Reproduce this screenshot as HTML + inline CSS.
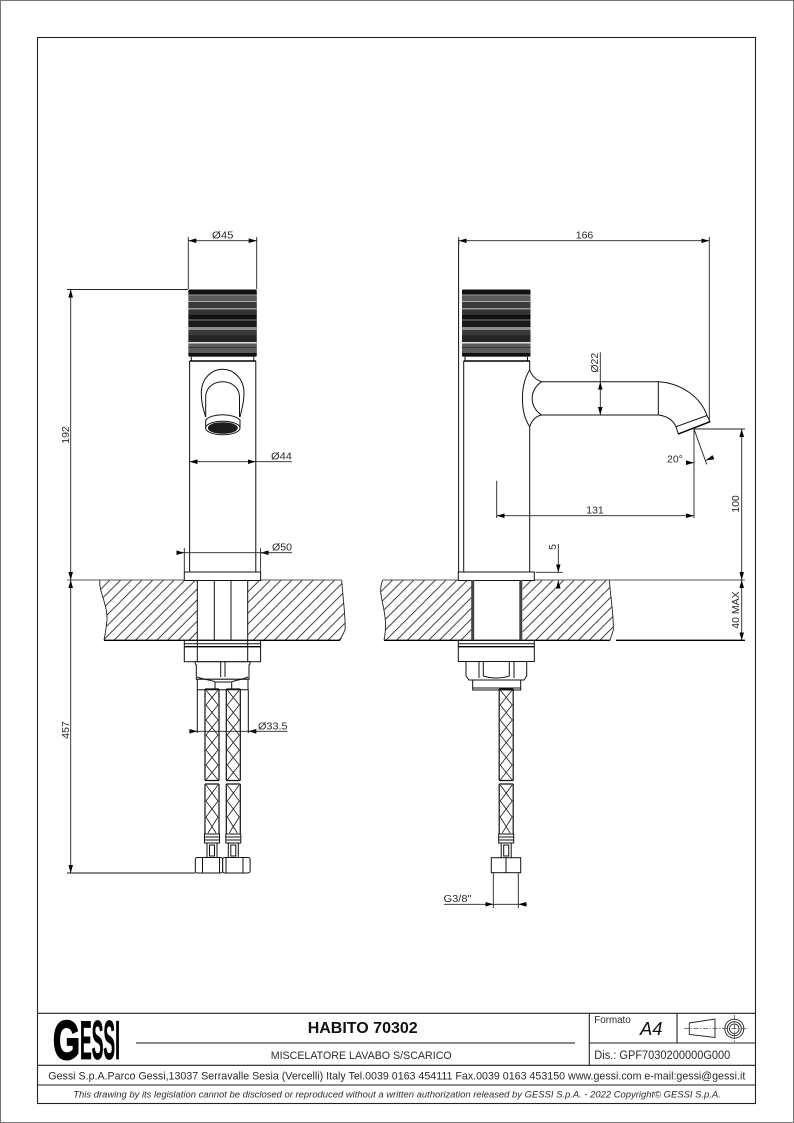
<!DOCTYPE html>
<html><head><meta charset="utf-8"><style>
html,body{margin:0;padding:0;background:#fff}
svg{display:block}
text{font-family:"Liberation Sans",sans-serif;fill:#2a2a2a;font-size:10.5px}
.l{stroke:#111;stroke-width:1;fill:none}
.t{stroke:#000;stroke-width:1.4;fill:none}
.g{stroke:#555;stroke-width:1.1;fill:none}
.d{stroke:#222;stroke-width:.9;fill:none}
.a{stroke:#222;stroke-width:.9;fill:none;marker-start:url(#ar);marker-end:url(#ar)}
.e{stroke:#222;stroke-width:.9;fill:none;marker-end:url(#ar)}
.w{stroke:#111;stroke-width:1;fill:#fff}
</style></head><body>
<svg width="794" height="1123" viewBox="0 0 794 1123" xmlns="http://www.w3.org/2000/svg">
<defs>
<marker id="ar" markerUnits="userSpaceOnUse" markerWidth="10" markerHeight="6" refX="8" refY="3" orient="auto-start-reverse"><path d="M0,.7 L8,3 L0,5.3 z" fill="#000"/></marker>
<pattern id="hl" patternUnits="userSpaceOnUse" x="110" y="580" width="10.7" height="10.7"><path d="M-1,11.7 L11.7,-1 M-1,1 L1,-1 M9.7,11.7 L11.7,9.7" stroke="#222" stroke-width=".85" fill="none"/></pattern>
<pattern id="hr" patternUnits="userSpaceOnUse" x="403.3" y="580" width="10.7" height="10.7"><path d="M-1,11.7 L11.7,-1 M-1,1 L1,-1 M9.7,11.7 L11.7,9.7" stroke="#222" stroke-width=".85" fill="none"/></pattern>
<clipPath id="kc"><rect x="0" y="289.5" width="68.5" height="67.2" rx="1.5"/></clipPath>
<g id="knob"><g clip-path="url(#kc)">
<rect x="0" y="289.5" width="68.5" height="67.2" fill="#222"/>
<rect x="0" y="289.5" width="68.5" height="5" fill="#111"/>
<rect x="0" y="294.5" width="68.5" height="1" fill="#999"/>
<rect x="0" y="295.5" width="68.5" height="5.5" fill="#5a5a5a"/>
<rect x="0" y="301" width="68.5" height="1" fill="#aaa"/>
<rect x="0" y="302" width="68.5" height="6" fill="#3a3a3a"/>
<rect x="0" y="308" width="68.5" height="1.5" fill="#999"/>
<rect x="0" y="309.5" width="68.5" height="5.5" fill="#333"/>
<rect x="0" y="315" width="68.5" height="4" fill="#111"/>
<rect x="0" y="319" width="68.5" height="2" fill="#4a4a4a"/>
<rect x="0" y="321" width="68.5" height="6" fill="#1a1a1a"/>
<rect x="0" y="327" width="68.5" height="3" fill="#8c8c8c"/>
<rect x="0" y="330" width="68.5" height="5" fill="#3a3a3a"/>
<rect x="0" y="335" width="68.5" height="7" fill="#262626"/>
<rect x="0" y="342" width="68.5" height="1.5" fill="#e0e0e0"/>
<rect x="0" y="343.5" width="68.5" height="9.5" fill="#5c5c5c"/>
<rect x="0" y="347" width="68.5" height="1" fill="#333"/>
<rect x="0" y="353" width="68.5" height="3.7" fill="#111"/>
</g>
<path d="M3,356.7 V361 M65.5,356.7 V361" class="l"/>
</g>
<g id="braid">
<path d="M0,0 H14 M0,0 V91.5 M14,0 V91.5 M0,91.5 H14 M0,95 H14 M0,95 V145 M14,95 V145" stroke="#111" stroke-width="1.2" fill="none"/>
<path d="M1,1 L13,16 L1,31 L13,46 L1,61 L13,76 L1,91 M13,1 L1,16 L13,31 L1,46 L13,61 L1,76 L13,91 M1,96 L13,112 L1,128 L11,144 M13,96 L1,112 L13,128 L3,144" stroke="#222" stroke-width=".85" fill="none"/>
<path d="M-.5,145 H14.5 V154 H-.5 z M-.5,148 H14.5 M-.5,151 H14.5" class="w"/>
<path d="M2,154 V168.5 M12,154 V168.5 M4.5,156 H9.5 V167 H4.5 z" class="l"/>
</g>
</defs>
<rect width="794" height="1123" fill="#fff"/>
<rect x=".5" y=".5" width="793" height="1122" fill="none" stroke="#777" stroke-width="1"/>
<rect x="37.5" y="37.5" width="718" height="1066" fill="none" stroke="#222" stroke-width="1.1"/>

<!-- LEFT VIEW -->
<path d="M100,580 C98,590 108,605 107,620 C106,630 105,635 104,640.3 H197.3 V580 z" fill="url(#hl)"/>
<path d="M247.7,580 H341.7 C343,600 346,620 345,630 L340,640.3 H247.7 z" fill="url(#hl)"/>
<path d="M100,580 C98,590 108,605 107,620 C106,630 105,635 104,640.3 M341.7,580 C343,600 346,620 345,630 L340,640.3" class="d"/>
<path d="M67,580 H342" class="g"/>
<path d="M104,640.3 H340" class="t"/>
<use href="#knob" x="188.3"/>
<path d="M189.6,361 H255.8" class="t"/>
<path d="M189.6,361 V572 M255.8,361 V572" class="l"/>
<path d="M205.7,417 C203,408 201.3,403 201.3,393 C201.3,378 212,369.3 222.7,369.3 C233,369.3 244,378 244,393 C244,403 242,408 240,417" class="l"/>
<path d="M205.7,417 V397 C205.7,388 213,381.7 222.7,381.7 C232,381.7 239.5,388 239.5,397 V417" class="l"/>
<path d="M205.7,420 C212,413 233,413 240,420 V428 H205.7 z" class="w"/>
<ellipse cx="222.8" cy="428" rx="17.2" ry="6.8" fill="#fff" stroke="#111" stroke-width="1"/>
<ellipse cx="222.8" cy="428" rx="15" ry="5.8" fill="#1c1c1c"/>
<rect x="184.3" y="572" width="76.3" height="8.5" class="w"/>
<path d="M197.3,580 V640 M214.3,580 V640 M231,580 V640 M247.7,580 V640" class="l"/>
<rect x="184.3" y="640.5" width="76.3" height="21.2" class="w"/>
<path d="M184.3,643.7 H260.6" class="l"/><path d="M184.3,646.7 H260.6" class="t"/>
<path d="M197.3,640.5 V662 M247.7,640.5 V662" class="l"/>
<path d="M195.3,661.7 H250 V664 L249,665 V679.3 H196.3 V665 L195.3,664 z" class="w"/>
<path d="M220.7,661.7 V677 M225,661.7 V677" class="l"/>
<path d="M197.3,679.3 H248 V689.8 H197.3 z" class="w"/>
<path d="M197.3,677 C205,680 212,680 215,682 H231.7 C235,680 242,680 248,677 M215,682 V689.8 M231.7,682 V689.8" class="l"/>
<path d="M197.3,690 V733 M248.3,690 V733" class="l"/>
<use href="#braid" x="205" y="689"/>
<use href="#braid" x="226.3" y="689"/>
<rect x="195.3" y="857.5" width="27.4" height="15.5" rx="2" class="w"/>
<rect x="222.7" y="857.5" width="27.4" height="15.5" rx="2" class="w"/>
<path d="M202.5,857.5 V873 M219.5,857.5 V873 M226,857.5 V873 M243,857.5 V873" class="l"/>
<path d="M67,873 H195.3" class="l"/>
<!-- left dims -->
<path d="M188.3,237 V289 M256.7,237 V289" class="d"/>
<path d="M188.3,240.7 H256.7" class="a"/>
<text x="212" y="238.5" textLength="21.5" lengthAdjust="spacingAndGlyphs">Ø45</text>
<path d="M67,289.5 H188" class="d"/>
<path d="M70.7,289.5 V580" class="a"/>
<path d="M70.7,580 V873" class="a"/>
<text transform="rotate(-90 69 435)" x="69" y="435" text-anchor="middle">192</text>
<text transform="rotate(-90 69 730)" x="69" y="730" text-anchor="middle">457</text>
<path d="M189.6,461.7 H255.8" class="a"/>
<path d="M255.8,461.7 H291.7" class="d"/>
<text x="271" y="459.5" textLength="21" lengthAdjust="spacingAndGlyphs">Ø44</text>
<path d="M184.3,548 V572 M260.6,548 V572" class="d"/>
<path d="M176.7,552.7 H184.3" class="e"/>
<path d="M269,552.7 H260.6" class="e"/>
<path d="M184.3,552.7 H292" class="d"/>
<text x="272" y="550.5" textLength="20" lengthAdjust="spacingAndGlyphs">Ø50</text>
<path d="M189,731.3 H197.3" class="e"/>
<path d="M257,731.3 H248.3" class="e"/>
<path d="M197.3,731.3 H287.3" class="d"/>
<text x="258" y="729.5" textLength="29.5" lengthAdjust="spacingAndGlyphs">Ø33.5</text>

<!-- RIGHT VIEW -->
<path d="M382.7,580 C379,590 381,595 383,605 C385,615 387,625 384,640.3 H471.7 V580 z" fill="url(#hr)"/>
<path d="M522.7,580 H609.3 C611,600 614,620 613.3,630 L610,640.3 H522.7 z" fill="url(#hr)"/>
<path d="M382.7,580 C379,590 381,595 383,605 C385,615 387,625 384,640.3 M609.3,580 C611,600 614,620 613.3,630 L610,640.3" class="d"/>
<path d="M382.7,580 H745" class="g"/>
<path d="M384,640.3 H610 M616,640.3 H745" class="t"/>
<use href="#knob" x="462"/>
<path d="M463.7,361 H530" class="t"/>
<path d="M463.7,361 V572 M458.6,240 V572 M529.7,361 V370 M529.7,426.7 V572" class="l"/>
<path d="M529.7,370 C520,385 520,412 529.7,426.7 M529.7,370 C532,376 536,380 541.7,381.7 M529.7,426.7 C532,420 536,416 541.7,415 M541.7,381.7 C529,390 529,407 541.7,415" class="l"/>
<path d="M541.7,381.7 H658.3 M541.7,415 H658.3 M658.3,381.7 V415" class="l"/>
<path d="M658.3,381.7 C682,383 701,398 707,415.5 M658.3,415 C667,416 673,420 676,426.7" class="l"/>
<path d="M676,426.7 L707,415.5 L710,421.7 L678.3,434 z" class="w"/>
<path d="M678.3,434 L710,421.7" class="t"/>
<rect x="458.3" y="572" width="76" height="8.5" class="w"/>
<path d="M472.7,580 V640 M520.8,580 V640" stroke="#444" stroke-width="3" fill="none"/>
<rect x="458.3" y="640.5" width="76" height="21" class="w"/>
<path d="M458.3,643.7 H534.3" class="l"/><path d="M458.3,646.7 H534.3" class="t"/>
<path d="M466,661.5 H526.7 V676 L524,680 H469 L466,676 z" class="w"/>
<path d="M479,661.5 V678 M483.3,661.5 V676 M509.3,661.5 V676 M514,661.5 V678 M483.3,676 Q496,680 509.3,676" class="l"/>
<rect x="472.7" y="680" width="48" height="10" class="w"/>
<path d="M472.7,688 H520.7" class="l"/>
<use href="#braid" x="499.2" y="689"/>
<rect x="491.3" y="857.7" width="29.4" height="15" class="w"/>
<path d="M506,857.7 V872.7" class="l"/>
<!-- right dims -->
<path d="M458.7,237 V245 M709.3,237 V421.7" class="d"/>
<path d="M458.7,240.7 H709.3" class="a"/>
<text x="584.5" y="238.5" text-anchor="middle">166</text>
<path d="M600.3,352.3 V381.7" class="d"/>
<path d="M600.3,381.7 V415" class="a"/>
<text transform="rotate(-90 598 362.7)" x="598" y="362.7" text-anchor="middle">Ø22</text>
<path d="M694,429 H745" class="d"/>
<path d="M741.7,429 V580" class="a"/>
<path d="M741.7,580 V640.3" class="a"/>
<text transform="rotate(-90 739 504)" x="739" y="504" text-anchor="middle">100</text>
<text transform="rotate(-90 739 610)" x="739" y="610" text-anchor="middle">40 MAX</text>
<path d="M496.7,480.7 V518 M694,429 V518" class="d"/>
<path d="M496.7,515.7 H694" class="a"/>
<text x="595" y="513.5" text-anchor="middle">131</text>
<path d="M694,429 L706.7,464.3" class="d"/>
<path d="M686,462.7 H694" class="e"/>
<path d="M714,457 L706,460.3" class="e"/>
<text x="667" y="462.5">20°</text>
<path d="M535.7,572.3 H562.7" class="d"/>
<path d="M558.3,544 V572.3" class="e"/>
<path d="M558.3,588 V580.5" class="e"/>
<text transform="rotate(-90 556 547)" x="556" y="547" text-anchor="middle">5</text>
<path d="M493.3,873 V908 M518.3,873 V908" class="d"/>
<path d="M444,904.3 H493.3" class="e"/>
<path d="M527,904.3 H518.3" class="e"/>
<path d="M493.3,904.3 H518.3" class="d"/>
<text x="443.5" y="902" textLength="28" lengthAdjust="spacingAndGlyphs">G3/8"</text>

<!-- TITLE BLOCK -->
<path d="M37,1013.3 H756 M37,1065.3 H756 M37,1085 H756 M589.3,1013 V1065 M589.3,1043 H756 M677,1013 V1043" stroke="#222" stroke-width="1.1" fill="none"/>
<path d="M136,1043 H575" stroke="#111" stroke-width="1.1"/>
<text x="53" y="1059" textLength="27" lengthAdjust="spacingAndGlyphs" style="font-size:55px;fill:#000;stroke:#000;stroke-width:2;font-weight:700">G</text>
<text x="80" y="1059" textLength="40" lengthAdjust="spacingAndGlyphs" style="font-size:55px;fill:#000;stroke:#000;stroke-width:.8;font-weight:700">ESSI</text>
<text x="307.7" y="1033" textLength="110" lengthAdjust="spacingAndGlyphs" style="font-size:16px;font-weight:700;fill:#111">HABITO 70302</text>
<text x="270.7" y="1059" textLength="181" lengthAdjust="spacingAndGlyphs" style="font-size:11px">MISCELATORE LAVABO S/SCARICO</text>
<text x="594.3" y="1023" textLength="36.4" lengthAdjust="spacingAndGlyphs" style="font-size:10px">Formato</text>
<text x="640" y="1035" textLength="22.5" lengthAdjust="spacingAndGlyphs" style="font-size:18px;font-style:italic;fill:#111">A4</text>
<text x="594.3" y="1059" textLength="136" lengthAdjust="spacingAndGlyphs" style="font-size:11.5px">Dis.: GPF7030200000G000</text>
<text x="48.3" y="1079.5" textLength="697" lengthAdjust="spacingAndGlyphs" style="font-size:11px">Gessi S.p.A.Parco Gessi,13037 Serravalle Sesia (Vercelli) Italy Tel.0039 0163 454111 Fax.0039 0163 453150 www.gessi.com e-mail:gessi@gessi.it</text>
<text x="73.3" y="1097.5" textLength="647.5" lengthAdjust="spacingAndGlyphs" style="font-size:9px;font-style:italic">This drawing by its legislation cannot be disclosed or reproduced without a written authorization released by GESSI S.p.A. - 2022 Copyright© GESSI S.p.A.</text>
<path d="M689.3,1023 L715,1019 V1037.5 L689.3,1034.5 z" fill="none" stroke="#222" stroke-width=".9"/>
<path d="M684,1028.7 H748 M734.3,1015 V1042.5" stroke="#333" stroke-width=".7" stroke-dasharray="5 1.5 1.5 1.5" fill="none"/>
<circle cx="734.3" cy="1028.7" r="9.5" fill="none" stroke="#222" stroke-width=".9"/>
<circle cx="734.3" cy="1028.7" r="7" fill="none" stroke="#222" stroke-width=".9"/>
<circle cx="734.3" cy="1028.7" r="4.8" fill="none" stroke="#222" stroke-width=".9"/>
</svg>
</body></html>
